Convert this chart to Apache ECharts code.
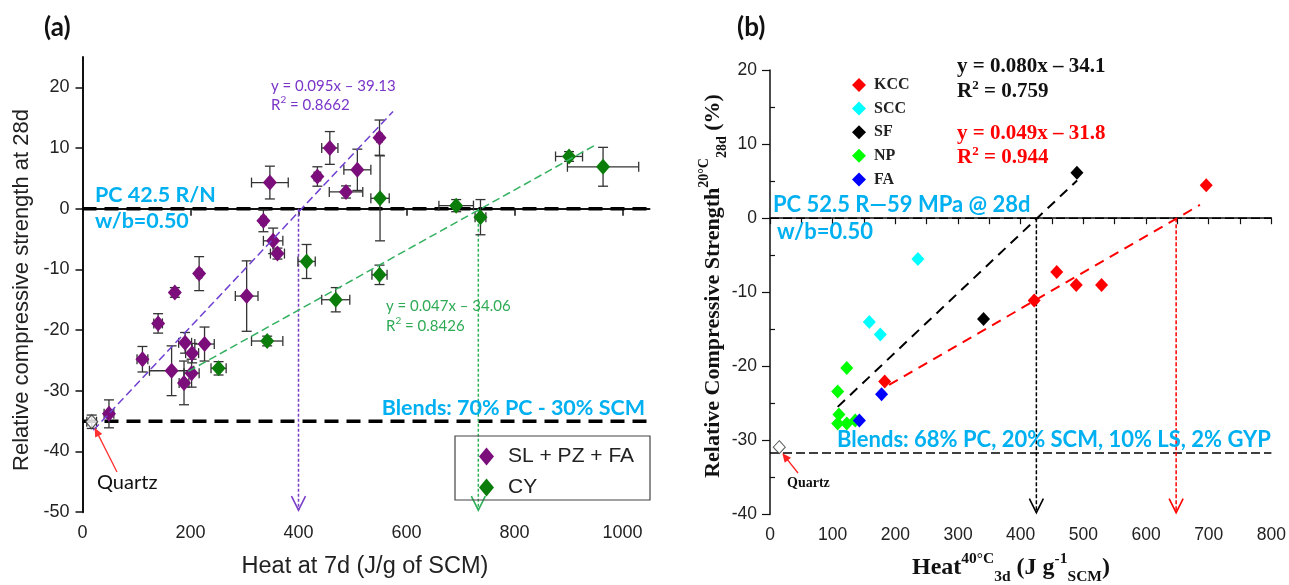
<!DOCTYPE html>
<html><head><meta charset="utf-8">
<script src="https://cdn.jsdelivr.net/npm/echarts@6/dist/echarts.min.js"></script>
<style>html,body{margin:0;padding:0;background:#fff}#c{width:1289px;height:585px}</style>
</head><body><div id="c"></div>
<script>
// ---------- Panel (a) data: [x, y, xErr, yErr] ----------
const aXTicks = [0, 200, 400, 600, 800, 1000];
const aYTicks = [-50, -40, -30, -20, -10, 0, 10, 20];
const aPurple = [
  [347, 4.3, 34, 2.7], [435, 5.3, 6, 1.6], [458, 10.0, 15, 2.7], [335, -2.0, 5, 1.8],
  [353, -5.3, 18, 2.1], [361, -7.4, 13, 0.9], [216, -10.7, 5, 2.8], [171, -13.8, 5, 0.8],
  [304, -14.4, 21, 5.8], [140, -18.9, 8, 1.6], [190, -22.1, 12, 1.7], [226, -22.3, 18, 2.8],
  [203, -23.8, 12, 1.6], [111, -24.8, 10, 2.1], [165, -26.7, 41, 4.1], [202, -27.1, 14, 2.3],
  [188, -28.7, 9, 3.6], [49, -33.8, 9, 2.3], [509, 6.4, 25, 3.4], [488, 2.75, 31, 1.0],
  [550, 11.7, 5, 2.9]
];
const aGreen = [
  [551, 1.7, 17, 7.0], [692, 0.5, 32, 1.0], [737, -1.4, 10, 2.9], [901, 8.6, 25, 0.8],
  [964, 6.9, 66, 3.2], [415, -8.7, 16, 2.8], [550, -10.9, 14, 1.6], [469, -15.0, 26, 2.0],
  [342, -21.8, 29, 0.8], [252, -26.3, 14, 1.1]
];
const aQuartz = [[17, -35.1, 9, 1.1]];
const aPurpleFit = [[20, -36.5], [575, 16]];
const aGreenFit = [[196, -26.8], [952, 10.6]];
const aRefY = [0, -35];
const aDrops = [[400, 0, -50], [733, 0, -50]];

// ---------- Panel (b) data: [x, y] ----------
const bKCC = [[183, -22.05], [421.5, -11.1], [457.5, -7.25], [488.6, -9.0], [529, -9.0], [696, 4.45]];
const bSCC = [[236, -5.5], [158.5, -14.0], [176, -15.7]];
const bSF = [[340.7, -13.6], [489.7, 6.15]];
const bNP = [[122.5, -20.2], [108, -23.4], [110, -26.5], [108, -27.7], [122.5, -27.7], [136, -27.3]];
const bFA = [[142.6, -27.3], [178, -23.75]];
const bQuartz = [[14.8, -30.9]];
const bSFFit = [[108, -25.46], [490, 5.1]];
const bKCCFit = [[190, -22.5], [686, 1.8]];
const bRefY = [0, -31.7];
const bDrops = [[425, 0, -40], [648, 0, -40]];
const bMinorY = [-35, -25, -15, -5, 5, 15];

const chart = echarts.init(document.getElementById('c'));

function errRender(params, api) {
  const x = api.value(0), y = api.value(1), xe = api.value(2), ye = api.value(3);
  const c = api.coord([x, y]);
  const l = api.coord([x - xe, y]), r = api.coord([x + xe, y]);
  const t = api.coord([x, y + ye]), b = api.coord([x, y - ye]);
  const cap = 5;
  const st = {stroke: '#333', lineWidth: 1.3, fill: null};
  const ch = [];
  if (xe > 0) {
    ch.push({type: 'line', shape: {x1: l[0], y1: c[1], x2: r[0], y2: c[1]}, style: st});
    ch.push({type: 'line', shape: {x1: l[0], y1: c[1] - cap, x2: l[0], y2: c[1] + cap}, style: st});
    ch.push({type: 'line', shape: {x1: r[0], y1: c[1] - cap, x2: r[0], y2: c[1] + cap}, style: st});
  }
  if (ye > 0) {
    ch.push({type: 'line', shape: {x1: c[0], y1: t[1], x2: c[0], y2: b[1]}, style: st});
    ch.push({type: 'line', shape: {x1: c[0] - cap, y1: t[1], x2: c[0] + cap, y2: t[1]}, style: st});
    ch.push({type: 'line', shape: {x1: c[0] - cap, y1: b[1], x2: c[0] + cap, y2: b[1]}, style: st});
  }
  return {type: 'group', children: ch};
}
function dropRender(color, dash) {
  return function (params, api) {
    const top = api.coord([api.value(0), api.value(1)]);
    const bot = api.coord([api.value(0), api.value(2)]);
    return {type: 'group', children: [
      {type: 'line', shape: {x1: top[0], y1: top[1], x2: bot[0], y2: bot[1] - 2}, style: {stroke: color, lineWidth: 1.5, lineDash: dash}},
      {type: 'polyline', shape: {points: [[bot[0] - 7, bot[1] - 16], [bot[0], bot[1] - 2], [bot[0] + 7, bot[1] - 16]]}, style: {stroke: color, lineWidth: 1.6, fill: null}}
    ]};
  };
}
function refLine(y, xmin, xmax, gi, style) {
  return {type: 'line', xAxisIndex: gi, yAxisIndex: gi, data: [[xmin, y], [xmax, y]], symbol: 'none', silent: true,
    lineStyle: style, z: 1, animation: false};
}

const SANS = 'Liberation Sans';
const SERIF = 'Liberation Serif';
const CAL = 'Lato';
const BLUE = '#00b0f0';

function T(x, y, text, o) {
  o = o || {};
  return {type: 'text', x: x, y: y, rotation: o.rot || 0, z: 50,
    style: {text: text, fill: o.color || '#222', fontSize: o.size || 16, fontFamily: o.family || SANS,
      fontWeight: o.weight || 'normal', align: o.align || 'left', textAlign: o.align || 'left',
      verticalAlign: 'middle', textVerticalAlign: 'middle', rich: o.rich}};
}
const plain = v => String(v);

const option = {
  animation: false,
  backgroundColor: '#fff',
  grid: [
    {left: 82.5, top: 56.9, width: 567, height: 455.3},
    {left: 770, top: 70, width: 505, height: 444.6}
  ],
  xAxis: [
    {type: 'value', gridIndex: 0, min: 0, max: 1050,
      axisLine: {lineStyle: {color: '#111', width: 2}},
      axisTick: {customValues: aXTicks, length: 7, lineStyle: {color: '#111', width: 1.5}},
      axisLabel: {customValues: aXTicks, formatter: plain, fontSize: 18, fontFamily: SANS, color: '#222', margin: 12},
      splitLine: {show: false}},
    {type: 'value', gridIndex: 1, min: 0, max: 800, interval: 100,
      axisLine: {lineStyle: {color: '#111', width: 1.5}},
      axisTick: {length: 6, lineStyle: {color: '#111', width: 1.2}},
      minorTick: {show: true, splitNumber: 2, length: 6, lineStyle: {color: '#111', width: 1.2}},
      axisLabel: {formatter: plain, fontSize: 17.5, fontFamily: SANS, color: '#222', margin: 12},
      splitLine: {show: false}, minorSplitLine: {show: false}}
  ],
  yAxis: [
    {type: 'value', gridIndex: 0, min: -50, max: 25,
      axisLine: {lineStyle: {color: '#111', width: 2}},
      axisTick: {customValues: aYTicks, length: 7, lineStyle: {color: '#111', width: 1.5}},
      axisLabel: {customValues: aYTicks, formatter: plain, fontSize: 18, fontFamily: SANS, color: '#222', margin: 13},
      splitLine: {show: false}},
    {type: 'value', gridIndex: 1, min: -40, max: 20, interval: 10,
      axisLine: {lineStyle: {color: '#111', width: 1.5}},
      axisTick: {length: 8, lineStyle: {color: '#111', width: 1.2}},
      axisLabel: {formatter: plain, fontSize: 17.5, fontFamily: SANS, color: '#222', margin: 13},
      splitLine: {show: false}},
    {type: 'value', gridIndex: 1, min: -40, max: 20, position: 'left', offset: 0,
      axisLine: {show: false},
      axisTick: {inside: true, customValues: bMinorY, length: 5, lineStyle: {color: '#111', width: 1.2}},
      axisLabel: {show: false}, splitLine: {show: false}}
  ],
  legend: [
    {left: 474, top: 441, orient: 'vertical', data: ['SL + PZ + FA', 'CY'], icon: 'diamond',
      itemWidth: 15, itemHeight: 18, itemGap: 10,
      textStyle: {fontSize: 21, fontFamily: SANS, color: '#222', padding: [0, 0, 0, 9]}},
    {left: 847, top: 72, orient: 'vertical', data: ['KCC', 'SCC', 'SF', 'NP', 'FA'], icon: 'diamond',
      itemWidth: 14, itemHeight: 14, itemGap: 7.6,
      textStyle: {fontSize: 16, fontFamily: SERIF, fontWeight: 'bold', color: '#222', lineHeight: 14, padding: [0, 0, 0, 3]}}
  ],
  series: [
    // Panel (a)
    refLine(aRefY[0], 0, 1050, 0, {color: '#000', width: 3.5, type: [14, 8]}),
    refLine(aRefY[1], 0, 1050, 0, {color: '#000', width: 3.5, type: [14, 8]}),
    {type: 'custom', xAxisIndex: 0, yAxisIndex: 0, renderItem: dropRender('#7a3fc8', [3, 2]), data: [aDrops[0]], z: 2, silent: true},
    {type: 'custom', xAxisIndex: 0, yAxisIndex: 0, renderItem: dropRender('#2eb05a', [3, 2]), data: [aDrops[1]], z: 2, silent: true},
    {type: 'custom', xAxisIndex: 0, yAxisIndex: 0, renderItem: errRender, data: aPurple.concat(aGreen, aQuartz), encode: {x: 0, y: 1}, z: 3, silent: true},
    {name: 'SL + PZ + FA', type: 'scatter', xAxisIndex: 0, yAxisIndex: 0, data: aPurple.map(d => [d[0], d[1]]),
      symbol: 'diamond', symbolSize: [14, 16], itemStyle: {color: '#7b0e7b', opacity: 1}, z: 4},
    {name: 'CY', type: 'scatter', xAxisIndex: 0, yAxisIndex: 0, data: aGreen.map(d => [d[0], d[1]]),
      symbol: 'diamond', symbolSize: [14, 16], itemStyle: {color: '#0b7d0b', opacity: 1}, z: 4},
    {name: 'Quartz a', type: 'scatter', xAxisIndex: 0, yAxisIndex: 0, data: aQuartz.map(d => [d[0], d[1]]),
      symbol: 'diamond', symbolSize: [12, 14], itemStyle: {color: '#fff', borderColor: '#333', borderWidth: 1.2}, z: 4},
    {type: 'line', xAxisIndex: 0, yAxisIndex: 0, data: aPurpleFit, symbol: 'none', silent: true, z: 5,
      lineStyle: {color: '#7040d0', width: 1.5, type: [8, 4]}},
    {type: 'line', xAxisIndex: 0, yAxisIndex: 0, data: aGreenFit, symbol: 'none', silent: true, z: 5,
      lineStyle: {color: '#33b060', width: 1.5, type: [8, 4]}},
    // Panel (b)
    refLine(bRefY[0], 0, 800, 1, {color: '#000', width: 1.5, type: [9, 4]}),
    refLine(bRefY[1], 0, 800, 1, {color: '#000', width: 1.5, type: [9, 4]}),
    {type: 'custom', xAxisIndex: 1, yAxisIndex: 1, renderItem: dropRender('#000', [4, 2]), data: [bDrops[0]], z: 2, silent: true},
    {type: 'custom', xAxisIndex: 1, yAxisIndex: 1, renderItem: dropRender('#ff0000', [4, 2]), data: [bDrops[1]], z: 2, silent: true},
    {type: 'line', xAxisIndex: 1, yAxisIndex: 1, data: bSFFit, symbol: 'none', silent: true, z: 3,
      lineStyle: {color: '#000', width: 2, type: [10, 7]}},
    {type: 'line', xAxisIndex: 1, yAxisIndex: 1, data: bKCCFit, symbol: 'none', silent: true, z: 3,
      lineStyle: {color: '#ff0000', width: 2, type: [10, 7]}},
    {name: 'KCC', type: 'scatter', xAxisIndex: 1, yAxisIndex: 1, data: bKCC, symbol: 'diamond', symbolSize: [13, 14], itemStyle: {color: '#ff0000', opacity: 1}, z: 4},
    {name: 'SCC', type: 'scatter', xAxisIndex: 1, yAxisIndex: 1, data: bSCC, symbol: 'diamond', symbolSize: [13, 14], itemStyle: {color: '#00ffff', opacity: 1}, z: 4},
    {name: 'SF', type: 'scatter', xAxisIndex: 1, yAxisIndex: 1, data: bSF, symbol: 'diamond', symbolSize: [13, 14], itemStyle: {color: '#000000', opacity: 1}, z: 4},
    {name: 'NP', type: 'scatter', xAxisIndex: 1, yAxisIndex: 1, data: bNP, symbol: 'diamond', symbolSize: [13, 14], itemStyle: {color: '#00ff00', opacity: 1}, z: 4},
    {name: 'FA', type: 'scatter', xAxisIndex: 1, yAxisIndex: 1, data: bFA, symbol: 'diamond', symbolSize: [13, 14], itemStyle: {color: '#0000ff', opacity: 1}, z: 4},
    {name: 'Quartz b', type: 'scatter', xAxisIndex: 1, yAxisIndex: 1, data: bQuartz, symbol: 'diamond', symbolSize: [12, 13],
      itemStyle: {color: '#fff', borderColor: '#333', borderWidth: 1}, z: 4}
  ]
};
chart.setOption(option);

// annotations
const qa = chart.convertToPixel({gridIndex: 0}, [aQuartz[0][0], aQuartz[0][1]]);
const qb = chart.convertToPixel({gridIndex: 1}, bQuartz[0]);
function arrow(tip, from, color) {
  const dx = from[0] - tip[0], dy = from[1] - tip[1];
  const L = Math.sqrt(dx * dx + dy * dy), ux = dx / L, uy = dy / L;
  const h = 9, w = 4;
  return [
    {type: 'line', z: 50, shape: {x1: from[0], y1: from[1], x2: tip[0] + ux * 6, y2: tip[1] + uy * 6}, style: {stroke: color, lineWidth: 1.3}},
    {type: 'polygon', z: 50, shape: {points: [[tip[0], tip[1]], [tip[0] + ux * h - uy * w, tip[1] + uy * h + ux * w], [tip[0] + ux * h + uy * w, tip[1] + uy * h - ux * w]]}, style: {fill: color}}
  ];
}
const supsubY = {
  m: {fontSize: 22, fontFamily: SERIF, fontWeight: 'bold', lineHeight: 32},
  sup: {fontSize: 14, fontFamily: SERIF, fontWeight: 'bold', verticalAlign: 'top', lineHeight: 32},
  sub: {fontSize: 14, fontFamily: SERIF, fontWeight: 'bold', verticalAlign: 'bottom', lineHeight: 32}
};
const supsubX = {
  m: {fontSize: 24, fontFamily: SERIF, fontWeight: 'bold', lineHeight: 34},
  sup: {fontSize: 15.5, fontFamily: SERIF, fontWeight: 'bold', verticalAlign: 'top', lineHeight: 34},
  sub: {fontSize: 15.5, fontFamily: SERIF, fontWeight: 'bold', verticalAlign: 'bottom', lineHeight: 34}
};
const r2a = {r: {fontSize: 15, fontFamily: CAL, lineHeight: 20}, s: {fontSize: 10, fontFamily: CAL, verticalAlign: 'top', lineHeight: 20}};
const r2b = {r: {fontSize: 21, fontFamily: SERIF, fontWeight: 'bold', lineHeight: 26}, s: {fontSize: 13, fontFamily: SERIF, fontWeight: 'bold', verticalAlign: 'top', lineHeight: 26}};
const graphics = [
  {type: 'rect', z: 40, shape: {x: 455, y: 436, width: 195, height: 64}, style: {fill: 'none', stroke: '#444', lineWidth: 1.2}},
  T(44, 28, '(a)', {size: 26, weight: 'bold', family: CAL, color: '#111'}),
  T(737, 28, '(b)', {size: 26, weight: 'bold', family: CAL, color: '#111'}),
  T(22, 290, 'Relative compressive strength at 28d', {size: 22, align: 'center', rot: Math.PI / 2}),
  T(365, 567, 'Heat at 7d (J/g of SCM)', {size: 23.5, align: 'center'}),
  T(95, 195, 'PC 42.5 R/N', {size: 21.5, weight: 'bold', family: CAL, color: BLUE}),
  T(95, 221, 'w/b=0.50', {size: 21.5, weight: 'bold', family: CAL, color: BLUE}),
  T(645, 408, 'Blends: 70% PC - 30% SCM', {size: 21.5, weight: 'bold', family: CAL, color: BLUE, align: 'right'}),
  T(271, 86, 'y = 0.095x \u2013 39.13', {size: 15, family: CAL, color: '#7a35c8'}),
  T(271, 105, '{r|R}{s|2}{r| = 0.8662}', {color: '#7a35c8', rich: r2a}),
  T(386, 306, 'y = 0.047x \u2013 34.06', {size: 15, family: CAL, color: '#2eaa55'}),
  T(386, 326, '{r|R}{s|2}{r| = 0.8426}', {color: '#2eaa55', rich: r2a}),
  T(97, 483, 'Quartz', {size: 20, family: CAL, color: '#111'}),
  // panel b
  T(713, 286, '{m|Relative Compressive Strength}{sup|20\u00b0C}{sub|28d}{m| (%)}', {align: 'center', rot: Math.PI / 2, color: '#111', rich: supsubY}),
  T(1011, 568, '{m|Heat}{sup|40\u00b0C}{sub|3d}{m| (J g}{sup|-1}{sub|SCM}{m|)}', {align: 'center', color: '#111', rich: supsubX}),
  T(957, 67, 'y = 0.080x \u2013 34.1', {size: 21, weight: 'bold', family: SERIF, color: '#111'}),
  T(957, 92, '{r|R}{s|2}{r| = 0.759}', {color: '#111', rich: r2b}),
  T(957, 134, 'y = 0.049x \u2013 31.8', {size: 21, weight: 'bold', family: SERIF, color: '#ff0000'}),
  T(957, 158, '{r|R}{s|2}{r| = 0.944}', {color: '#ff0000', rich: r2b}),
  T(773, 205, 'PC 52.5 R\u201459 MPa @ 28d', {size: 22, weight: 'bold', family: CAL, color: BLUE}),
  T(777, 232, 'w/b=0.50', {size: 22, weight: 'bold', family: CAL, color: BLUE}),
  T(837, 440, 'Blends: 68% PC, 20% SCM, 10% LS, 2% GYP', {size: 22, weight: 'bold', family: CAL, color: BLUE}),
  T(787, 483, 'Quartz', {size: 14, weight: 'bold', family: SERIF, color: '#111'})
].concat(arrow([qa[0] + 3, qa[1] + 6], [117, 472], '#ff3030'), arrow([qb[0] + 3, qb[1] + 6], [798, 473], '#ff2020'));
chart.setOption({graphic: graphics});
</script>
</body></html>
